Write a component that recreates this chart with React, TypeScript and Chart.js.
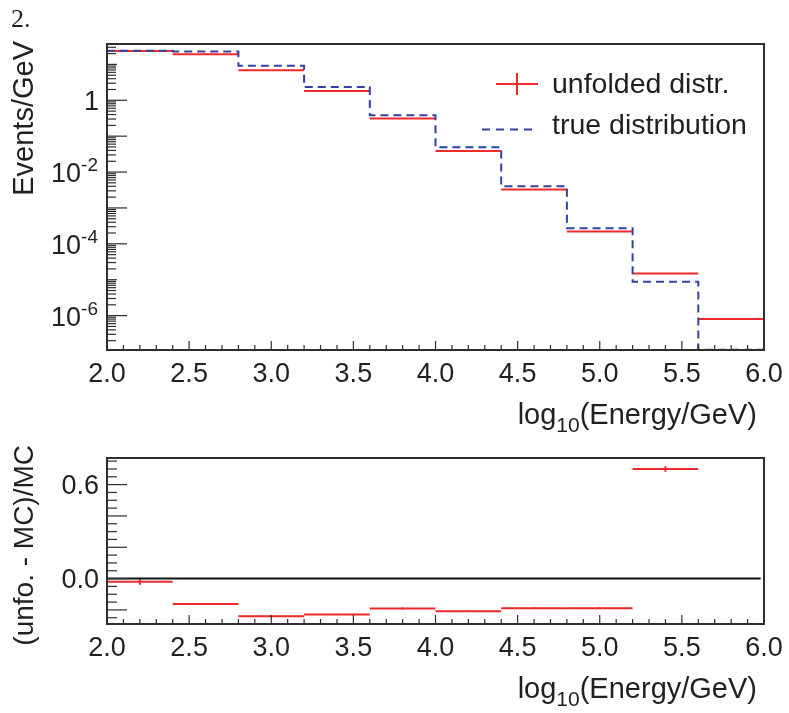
import React, { useEffect, useRef } from 'react';
import { Chart, registerables } from 'chart.js';

Chart.register(...registerables);

// ---------------- data ----------------
const binEdges = [2.0, 2.4, 2.8, 3.2, 3.6, 4.0, 4.4, 4.8, 5.2, 5.6, 6.0];
const unfoldedValues = [23.5, 19.2, 6.9, 1.82, 0.31, 0.0385, 0.00325, 2.21e-4, 1.48e-5, 8.0e-7];
const trueValues = [24.0, 22.9, 9.1, 2.35, 0.38, 0.0488, 0.004, 2.73e-4, 8.8e-6, 1.12e-7];
const ratioValues = [-0.021, -0.163, -0.24, -0.23, -0.191, -0.208, -0.189, -0.189, 0.7];
const ratioErrors = [0.018, 0.004, 0.004, 0.004, 0.006, 0.006, 0.006, 0.006, 0.018];
const xTickValues = [2.0, 2.5, 3.0, 3.5, 4.0, 4.5, 5.0, 5.5, 6.0];
const xTickLabels = ['2.0', '2.5', '3.0', '3.5', '4.0', '4.5', '5.0', '5.5', '6.0'];
const topYTickExponents = [0, -2, -4, -6];
const ratioTickValues = [0.0, 0.6];
const ratioTickLabels = ['0.0', '0.6'];
const zeroLineX = [2.0, 5.98];

const legendLabels = ['unfolded distr.', 'true distribution'];
const topYTitle = 'Events/GeV';
const bottomYTitle = '(unfo. - MC)/MC';

// ---------------- style ----------------
const RED = '#ee2a2a';
const BLUE = '#3342a2';
const AXIS = '#2e2e2e';
const TXT = '#231f20';
const FONT = '"Liberation Sans", Arial, Helvetica, sans-serif';
const FS = 27;
const TFS = 29;

// ---------------- helpers ----------------
function histSegments(edges: number[], vals: number[]) {
  const pts: any[] = [];
  vals.forEach((v, i) => {
    pts.push({ x: edges[i], y: v }, { x: edges[i + 1], y: v }, { x: edges[i + 1], y: null });
  });
  return pts;
}
function errorBars(edges: number[], vals: number[], errs: number[]) {
  const pts: any[] = [];
  vals.forEach((v, i) => {
    const c = (edges[i] + edges[i + 1]) / 2;
    pts.push({ x: c, y: v - errs[i] }, { x: c, y: v + errs[i] }, { x: c, y: null });
  });
  return pts;
}
function stepPoints(edges: number[], vals: number[]) {
  const pts = vals.map((v, i) => ({ x: edges[i], y: v }));
  pts.push({ x: edges[edges.length - 1], y: vals[vals.length - 1] });
  return pts;
}

function line(ctx: CanvasRenderingContext2D, x1: number, y1: number, x2: number, y2: number) {
  ctx.beginPath();
  ctx.moveTo(x1, y1);
  ctx.lineTo(x2, y2);
  ctx.stroke();
}

function drawFrame(ctx: CanvasRenderingContext2D, a: any) {
  ctx.strokeStyle = AXIS;
  ctx.lineWidth = 2;
  ctx.strokeRect(a.left, a.top, a.right - a.left, a.bottom - a.top);
}

function drawXAxis(ctx: CanvasRenderingContext2D, a: any, x: any) {
  ctx.strokeStyle = AXIS;
  ctx.lineWidth = 1.2;
  for (let k = 20; k <= 60; k++) {
    const px = x.getPixelForValue(k / 10);
    const len = k % 5 === 0 ? 9 : 5;
    line(ctx, px, a.bottom, px, a.bottom - len);
  }
  ctx.fillStyle = TXT;
  ctx.font = `${FS}px ${FONT}`;
  ctx.textAlign = 'center';
  ctx.textBaseline = 'alphabetic';
  xTickValues.forEach((v, i) => {
    ctx.fillText(xTickLabels[i], x.getPixelForValue(v), a.bottom + 32);
  });
  // title with subscript, right aligned
  const base = a.bottom + 74;
  const right = 757;
  ctx.font = `${TFS}px ${FONT}`;
  const w1 = ctx.measureText('log').width;
  const w3 = ctx.measureText('(Energy/GeV)').width;
  ctx.font = `21px ${FONT}`;
  const w2 = ctx.measureText('10').width;
  let sx = right - (w1 + w2 + w3);
  ctx.textAlign = 'left';
  ctx.font = `${TFS}px ${FONT}`;
  ctx.fillText('log', sx, base);
  sx += w1;
  ctx.font = `21px ${FONT}`;
  ctx.fillText('10', sx, base + 8);
  sx += w2;
  ctx.font = `${TFS}px ${FONT}`;
  ctx.fillText('(Energy/GeV)', sx, base);
}

function drawYTitle(ctx: CanvasRenderingContext2D, text: string, topY: number, size: number) {
  ctx.save();
  ctx.translate(33, topY);
  ctx.rotate(-Math.PI / 2);
  ctx.fillStyle = TXT;
  ctx.font = `${size}px ${FONT}`;
  ctx.textAlign = 'right';
  ctx.textBaseline = 'alphabetic';
  ctx.fillText(text, 0, 0);
  ctx.restore();
}

const topAxesPlugin = {
  id: 'topAxes',
  afterDraw(chart: any) {
    const { ctx, chartArea: a, scales } = chart;
    const x = scales.x;
    const y = scales.y;
    ctx.save();
    drawFrame(ctx, a);
    // y ticks
    ctx.strokeStyle = AXIS;
    ctx.lineWidth = 1.2;
    for (let e = -8; e <= 1; e++) {
      for (let m = 1; m <= 9; m++) {
        const v = m * Math.pow(10, e);
        if (v < y.min * 1.0001 || v > y.max) continue;
        const py = y.getPixelForValue(v);
        const len = m === 1 ? (e === 1 || e === -5 ? 10 : 20) : 9;
        line(ctx, a.left, py, a.left + len, py);
      }
    }
    // y labels
    ctx.fillStyle = TXT;
    ctx.textBaseline = 'alphabetic';
    const right = 98;
    topYTickExponents.forEach((e) => {
      const py = y.getPixelForValue(Math.pow(10, e));
      if (e === 0) {
        ctx.font = `${FS}px ${FONT}`;
        ctx.textAlign = 'right';
        ctx.fillText('1', right + 1, py + 10);
      } else {
        const exp = String(e);
        ctx.font = `19px ${FONT}`;
        const we = ctx.measureText(exp).width;
        ctx.textAlign = 'right';
        ctx.fillText(exp, right, py - 1);
        ctx.font = `${FS}px ${FONT}`;
        ctx.fillText('10', right - we, py + 10);
      }
    });
    drawXAxis(ctx, a, x);
    drawYTitle(ctx, topYTitle, 41, TFS);

    // legend
    ctx.strokeStyle = RED;
    ctx.lineWidth = 2;
    ctx.setLineDash([]);
    line(ctx, 496, 84, 538, 84);
    line(ctx, 517, 73, 517, 95);
    ctx.strokeStyle = BLUE;
    ctx.setLineDash([8, 6]);
    line(ctx, 482, 129.5, 534, 129.5);
    ctx.setLineDash([]);
    ctx.fillStyle = TXT;
    ctx.font = `28.5px ${FONT}`;
    ctx.textAlign = 'left';
    ctx.fillText(legendLabels[0], 552, 93);
    ctx.fillText(legendLabels[1], 552, 134);

    // page fragment text
    ctx.font = '26px "Liberation Serif", "Times New Roman", serif';
    ctx.fillStyle = '#222';
    ctx.fillText('2.', 11, 27);
    ctx.restore();
  },
};

const bottomAxesPlugin = {
  id: 'bottomAxes',
  afterDraw(chart: any) {
    const { ctx, chartArea: a, scales } = chart;
    const x = scales.x;
    const y = scales.y;
    ctx.save();
    drawFrame(ctx, a);
    ctx.strokeStyle = AXIS;
    ctx.lineWidth = 1.2;
    for (let k = -10; k <= 20; k++) {
      const v = k * 0.05;
      if (v < y.min || v > y.max) continue;
      const py = y.getPixelForValue(v);
      const len = k % 4 === 0 ? 20 : 10;
      line(ctx, a.left, py, a.left + len, py);
    }
    ctx.fillStyle = TXT;
    ctx.font = `${FS}px ${FONT}`;
    ctx.textAlign = 'right';
    ctx.textBaseline = 'alphabetic';
    ratioTickValues.forEach((v, i) => {
      ctx.fillText(ratioTickLabels[i], 99, y.getPixelForValue(v) + 9);
    });
    drawXAxis(ctx, a, x);
    drawYTitle(ctx, bottomYTitle, 5, 28);
    ctx.restore();
  },
};

export default function App() {
  const topRef = useRef<HTMLCanvasElement>(null);
  const bottomRef = useRef<HTMLCanvasElement>(null);

  useEffect(() => {
    const common = {
      responsive: false,
      animation: false as const,
      events: [] as any[],
      plugins: { legend: { display: false }, tooltip: { enabled: false } },
      elements: { point: { radius: 0 }, line: { tension: 0 } },
    };

    const top = new Chart(topRef.current!, {
      type: 'line',
      data: {
        datasets: [
          {
            label: legendLabels[1],
            data: stepPoints(binEdges, trueValues),
            borderColor: BLUE,
            borderWidth: 2,
            borderDash: [8, 5],
            stepped: true,
            fill: false,
          },
          {
            label: legendLabels[0],
            data: histSegments(binEdges, unfoldedValues),
            borderColor: RED,
            borderWidth: 2,
            spanGaps: false,
            fill: false,
          },
        ],
      } as any,
      options: {
        ...common,
        layout: { padding: { left: 107, right: 25, top: 44, bottom: 90 } },
        scales: {
          x: { type: 'linear', min: 2, max: 6, display: false },
          y: { type: 'logarithmic', min: 1.1e-7, max: 37, display: false },
        },
      } as any,
      plugins: [topAxesPlugin],
    });

    const bottom = new Chart(bottomRef.current!, {
      type: 'line',
      data: {
        datasets: [
          {
            label: 'zero',
            data: zeroLineX.map((v) => ({ x: v, y: 0 })),
            borderColor: '#111',
            borderWidth: 2,
            fill: false,
          },
          {
            label: 'ratio',
            data: histSegments(binEdges, ratioValues),
            borderColor: RED,
            borderWidth: 2,
            spanGaps: false,
            fill: false,
          },
          {
            label: 'ratio errors',
            data: errorBars(binEdges, ratioValues, ratioErrors),
            borderColor: RED,
            borderWidth: 2,
            spanGaps: false,
            fill: false,
          },
        ],
      } as any,
      options: {
        ...common,
        layout: { padding: { left: 107, right: 25, top: 18, bottom: 89 } },
        scales: {
          x: { type: 'linear', min: 2, max: 6, display: false },
          y: { type: 'linear', min: -0.29, max: 0.77, display: false },
        },
      } as any,
      plugins: [bottomAxesPlugin],
    });

    return () => {
      top.destroy();
      bottom.destroy();
    };
  }, []);

  return (
    <div style={{ position: 'absolute', left: 0, top: 0, width: 789, height: 713, background: '#fff' }}>
      <canvas ref={topRef} width={789} height={440} style={{ position: 'absolute', left: 0, top: 0, width: 789, height: 440 }} />
      <canvas ref={bottomRef} width={789} height={273} style={{ position: 'absolute', left: 0, top: 440, width: 789, height: 273 }} />
    </div>
  );
}
